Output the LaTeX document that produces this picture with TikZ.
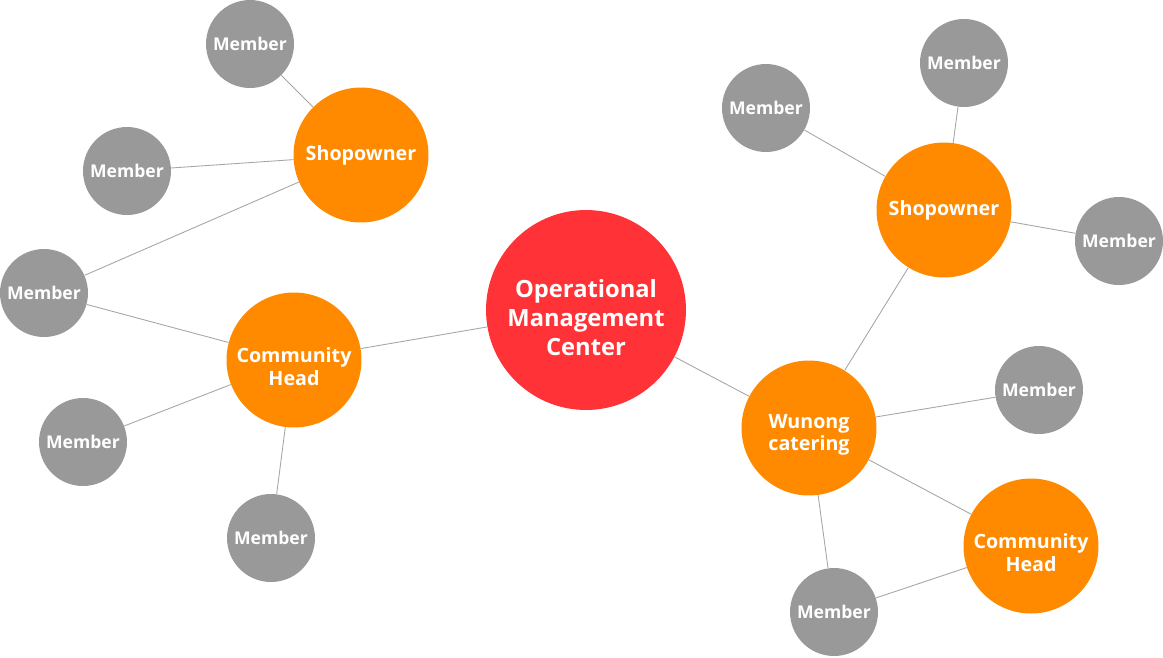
\documentclass[tikz,border=0pt]{standalone}
\usepackage{fontspec}
\setmainfont{Open Sans}
\usepackage{tikz}
\usetikzlibrary{positioning}
\definecolor{OMCred}{HTML}{FF3337}
\definecolor{HUBorange}{HTML}{FF8A00}
\definecolor{MEMgray}{HTML}{999999}
\definecolor{LINKgray}{HTML}{A6A6A6}
\newcommand{\liftstrut}{\rule{0pt}{1.4em}}
\tikzset{
  memb/.style={circle,fill=MEMgray,text=white,inner sep=0pt,minimum size=1.76cm,align=center,font=\bfseries\fontsize{10}{12}\selectfont},
  hub/.style={circle,fill=HUBorange,text=white,inner sep=0pt,minimum size=2.7cm,align=center,font=\bfseries\fontsize{11.2}{13}\selectfont},
  core/.style={circle,fill=OMCred,text=white,inner sep=0pt,minimum size=4cm,align=center,font=\bfseries\fontsize{13.5}{16.5}\selectfont},
  link/.style={draw=LINKgray,line width=0.5pt},
}

\begin{document}
\begin{tikzpicture}[x=0.02cm,y=-0.02cm]
\useasboundingbox (0,0) rectangle (1163,657);

\node[core] (omc) at (586,310) {\liftstrut Operational\\Management\\Center};

% left side
\node[hub] (shopL) at (361,155) {Shopowner};
\node[hub] (headL) at (294,360) {\liftstrut Community\\Head};
\node[memb] (m1) at (250,44) {Member};
\node[memb] (m2) at (127,171) {Member};
\node[memb] (m3) at (44,293) {Member};
\node[memb] (m4) at (83,442) {Member};
\node[memb] (m5) at (271,538) {Member};

% right side
\node[hub] (wun) at (809,428) {\liftstrut Wunong\\catering};
\node[hub] (shopR) at (944,210) {Shopowner};
\node[hub] (headR) at (1031,546) {\liftstrut Community\\Head};
\node[memb] (m6) at (766,108) {Member};
\node[memb] (m7) at (964,63) {Member};
\node[memb] (m8) at (1119,241) {Member};
\node[memb] (m9) at (1039,390) {Member};
\node[memb] (m10) at (834,612) {Member};

\draw[link] (m1) -- (shopL);
\draw[link] (m2) -- (shopL);
\draw[link] (m3) -- (shopL);
\draw[link] (m3) -- (headL);
\draw[link] (m4) -- (headL);
\draw[link] (m5) -- (headL);
\draw[link] (headL) -- (omc);
\draw[link] (omc) -- (wun);
\draw[link] (wun) -- (shopR);
\draw[link] (m6) -- (shopR);
\draw[link] (m7) -- (shopR);
\draw[link] (m8) -- (shopR);
\draw[link] (wun) -- (m9);
\draw[link] (wun) -- (headR);
\draw[link] (wun) -- (m10);
\draw[link] (headR) -- (m10);
\end{tikzpicture}
\end{document}
